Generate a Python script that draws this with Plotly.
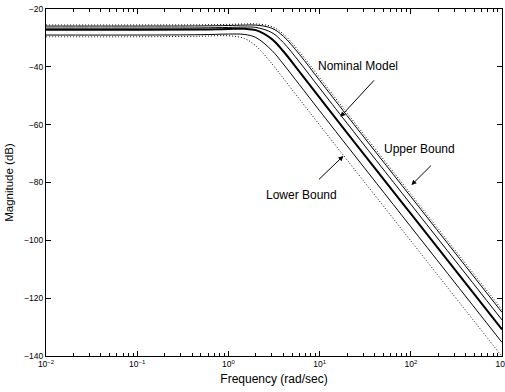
import plotly.graph_objects as go

# Frequencies (rad/sec) at which the curves were read
FREQ = [0.01, 0.1, 0.5, 1, 1.5, 2, 3, 4, 6, 10, 20, 100, 1000]

# Magnitude readings (dB)
UPPER_DOTTED = [-25.5, -25.5, -25.45, -25.32, -25.18, -25.16, -26.10, -28.63, -34.77, -43.75, -55.96, -83.99, -123.99]
UPPER_BOUND = [-25.9, -25.9, -25.85, -25.71, -25.57, -25.57, -26.67, -29.39, -35.67, -44.67, -56.87, -84.89, -124.9]
MODEL_B = [-26.6, -26.6, -26.54, -26.38, -26.25, -26.37, -28.18, -31.60, -38.29, -47.33, -59.50, -87.52, -127.52]
NOMINAL = [-27.2, -27.2, -27.11, -26.92, -26.86, -27.32, -30.41, -34.61, -41.62, -50.66, -62.80, -90.80, -130.80]
LOWER_BOUND = [-29.0, -29.0, -28.88, -28.67, -28.80, -29.86, -34.34, -39.03, -46.17, -55.19, -67.31, -95.30, -135.30]
LOWER_DOTTED = [-29.6, -29.6, -29.42, -29.26, -30.22, -32.76, -38.92, -43.95, -51.13, -60.11, -72.20, -100.18, -140.18]

XTICK_VALS = [0.01, 0.1, 1, 10, 100, 1000]
XTICK_TEXT = ["10<sup>\u22122</sup>", "10<sup>\u22121</sup>", "10<sup>0</sup>",
              "10<sup>1</sup>", "10<sup>2</sup>", "10<sup>3</sup>"]
YTICK_VALS = [-140, -120, -100, -80, -60, -40, -20]

FONT = "Liberation Sans, Arial, Helvetica, sans-serif"

fig = go.Figure()

def add(y, width=1, dash="solid"):
    fig.add_trace(go.Scatter(x=FREQ, y=y, mode="lines",
                             line=dict(color="black", width=width, dash=dash, shape="spline", smoothing=1.0),
                             showlegend=False, hoverinfo="skip"))

add(UPPER_DOTTED, 1, "1px,2px")
add(LOWER_DOTTED, 1, "1px,2px")
add(UPPER_BOUND, 1)
add(MODEL_B, 1)
add(LOWER_BOUND, 1)
add(NOMINAL, 2)

minor_vals = [m * 10 ** k for k in range(-2, 3) for m in range(2, 10)]

fig.update_xaxes(
    type="log", range=[-2, 3],
    tickmode="array", tickvals=XTICK_VALS, ticktext=XTICK_TEXT,
    ticks="inside", ticklen=5, tickwidth=1, tickcolor="black",
    minor=dict(tickmode="array", tickvals=minor_vals, ticks="inside", ticklen=3, tickcolor="black", tickwidth=1),
    showline=True, linecolor="black", linewidth=1, mirror="ticks",
    showgrid=False, zeroline=False,
    ticklabeloverflow="allow",
    tickfont=dict(family=FONT, size=8.5, color="black"),
    title=dict(text="Frequency (rad/sec)", font=dict(family=FONT, size=12, color="black"), standoff=6),
    automargin=False,
)
fig.update_yaxes(
    range=[-140, -20],
    tickmode="array", tickvals=YTICK_VALS,
    ticks="inside", ticklen=5, tickwidth=1, tickcolor="black",
    showline=True, linecolor="black", linewidth=1, mirror="ticks",
    showgrid=False, zeroline=False,
    tickfont=dict(family=FONT, size=8.5, color="black"),
    title=dict(text="Magnitude (dB)", font=dict(family=FONT, size=11.5, color="black"), standoff=8),
    automargin=False,
)

TFONT = dict(family=FONT, size=12, color="black")
# text labels (x in log10 units)
fig.add_annotation(x=1.425, y=-39.7, text="Nominal Model", showarrow=False, font=TFONT)
fig.add_annotation(x=2.094, y=-68.4, text="Upper Bound", showarrow=False, font=TFONT)
fig.add_annotation(x=0.80, y=-84.3, text="Lower Bound", showarrow=False, font=TFONT)
# arrows
arrow = dict(showarrow=True, text="", arrowhead=2, arrowsize=1, arrowwidth=1, arrowcolor="black")
fig.add_annotation(x=1.228, y=-57.3, ax=35, ay=-38, **arrow)
fig.add_annotation(x=2.007, y=-80.9, ax=21, ay=-21, **arrow)
fig.add_annotation(x=1.261, y=-70.8, ax=-26, ay=25, **arrow)

fig.update_layout(
    width=505, height=392,
    margin=dict(l=46, r=3, t=9, b=36),
    paper_bgcolor="white", plot_bgcolor="white",
    font=dict(family=FONT, color="black"),
)

fig.write_html("out.html")
